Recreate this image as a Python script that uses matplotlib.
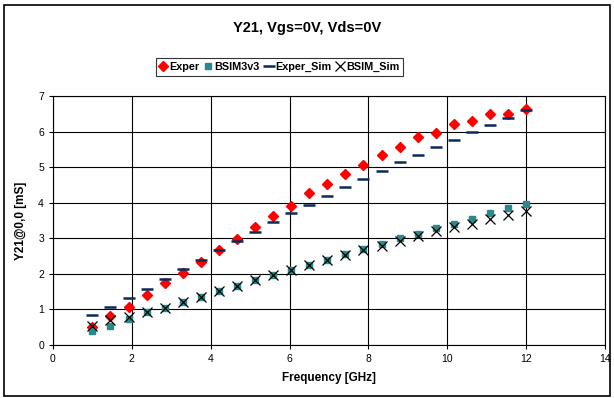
import matplotlib
matplotlib.use("Agg")
import matplotlib.pyplot as plt
from matplotlib.patches import Rectangle

plt.rcParams['font.family'] = ['Liberation Sans', 'DejaVu Sans']

freq = [1 + i * 11 / 24 for i in range(25)]

exper = [0.51, 0.81, 1.08, 1.40, 1.73, 2.03, 2.34, 2.67, 2.99, 3.32, 3.62, 3.92,
         4.26, 4.52, 4.80, 5.07, 5.35, 5.57, 5.84, 5.95, 6.20, 6.29, 6.50, 6.50, 6.64]
bsim3v3 = [0.40, 0.54, 0.72, 0.92, 1.05, 1.22, 1.36, 1.52, 1.66, 1.82, 1.96, 2.10,
           2.26, 2.39, 2.55, 2.69, 2.85, 3.00, 3.13, 3.28, 3.40, 3.55, 3.70, 3.84, 3.95]
exper_sim = [0.84, 1.07, 1.31, 1.58, 1.85, 2.13, 2.39, 2.67, 2.93, 3.18, 3.45, 3.70,
             3.94, 4.18, 4.43, 4.66, 4.90, 5.13, 5.34, 5.56, 5.77, 5.99, 6.19, 6.38, 6.60]
bsim_sim = [0.53, 0.70, 0.78, 0.92, 1.05, 1.22, 1.36, 1.52, 1.66, 1.82, 1.96, 2.10,
            2.26, 2.39, 2.53, 2.67, 2.79, 2.92, 3.06, 3.20, 3.32, 3.41, 3.55, 3.65, 3.77]

fig = plt.figure(figsize=(6.14, 3.98), dpi=100)
fig.patches.append(Rectangle((0.006, 0.005), 0.988, 0.983, transform=fig.transFigure,
                             fill=False, edgecolor='black', linewidth=1.2))
ax = fig.add_axes([0.0863, 0.133, 0.899, 0.626])

ax.plot(freq, exper, 'D', color='red', markersize=5.2, label='Exper', zorder=3)
ax.plot(freq, bsim3v3, 's', color='#2a8a8a', markersize=5, label='BSIM3v3', zorder=3)
ax.plot(freq, exper_sim, '_', color='#0b2a5a', markersize=9, markeredgewidth=1.8,
        label='Exper_Sim', zorder=4)
ax.plot(freq, bsim_sim, 'x', color='black', markersize=7, markeredgewidth=0.9,
        label='BSIM_Sim', zorder=4)

ax.set_xlim(0, 14)
ax.set_ylim(0, 7)
ax.set_xticks(range(0, 15, 2))
ax.set_yticks(range(0, 8))
ax.grid(True, color='black', linewidth=0.8)
ax.set_axisbelow(True)
for s in ax.spines.values():
    s.set_color('black')
    s.set_linewidth(0.8)
ax.tick_params(labelsize=7.5, length=3, width=0.8, color='black')

ax.set_xlabel('Frequency [GHz]', fontsize=8.5, fontweight='bold', labelpad=6)
ax.set_ylabel('Y21@0,0 [mS]', fontsize=8.5, fontweight='bold', labelpad=8)

fig.text(0.5, 0.93, 'Y21, Vgs=0V, Vds=0V', ha='center', va='center',
         fontsize=10.5, fontweight='bold')

leg = fig.legend(loc='center', bbox_to_anchor=(0.455, 0.832), ncol=4,
                 frameon=True, fancybox=False, edgecolor='black',
                 prop={'size': 7.8, 'weight': 'bold'}, handlelength=0.7,
                 handletextpad=0.2, columnspacing=0.5, borderpad=0.35,
                 borderaxespad=0)
leg.get_frame().set_linewidth(0.8)

fig.savefig('out.png', dpi=100)
